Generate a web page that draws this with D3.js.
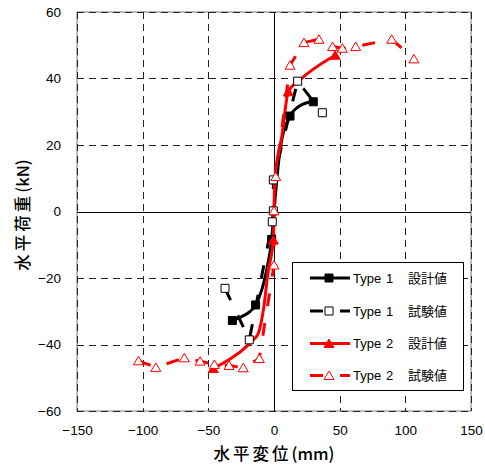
<!DOCTYPE html>
<html>
<head>
<meta charset="utf-8">
<script src="https://cdn.jsdelivr.net/npm/d3@7"></script>
<style>
  body { margin: 0; background: #fff; }
  svg { display: block; }
</style>
</head>
<body>
<svg id="chart"></svg>
<script>
// Type 1 design curve (filled squares, solid)
var t1DesignX = [-31.7, -24.6, -18.3, -14, -5.6, -1.8, 0, 4.6, 12.2, 18.5, 24.9, 29.9];
var t1DesignY = [-32.8, -31.6, -30.1, -28.1, -17.6, -8.4, 0, 18.5, 28.7, 31.5, 32.7, 33];
var t1DesignMark = [1, 0, 0, 1, 0, 1, 0, 0, 1, 0, 0, 1];

// Type 1 test (hollow squares, dashed)
var t1TestX = [-37.3, -18.8, -1.3, -0.5, -0.5, 18, 36.8];
var t1TestY = [-23.1, -38.6, -3.1, 0.2, 9.5, 39.2, 29.7];

// Type 2 design curve (filled triangles, solid)
var t2DesignX = [-46.2, -19.5, -15.7, -11.9, -8.1, -4.3, -0.5, 0, 0.5, 5.9, 10.9, 19.8, 46.6];
var t2DesignY = [-47.2, -40.1, -38.6, -36.6, -29.6, -17.6, -8.6, 0, 9.5, 22.5, 36, 39.6, 47];
var t2DesignMark = [1, 0, 0, 0, 0, 0, 1, 0, 0, 0, 1, 0, 1];

// Type 2 test (hollow triangles, dashed)
var t2TestX = [-103.2, -90, -68.3, -56.3, -45.4, -34.2, -23.4, -11.2, 0, 0, 1.3, 12.2, 22.8, 34.2, 44.6, 52, 62.2, 89.6, 106.5];
var t2TestY = [-44.9, -46.9, -44, -45, -46, -46.3, -47, -44.2, -16.1, 0.2, 10.5, 44, 50.8, 51.8, 49.6, 49.1, 49.6, 51.8, 45.9];

var xTicks = [-150, -100, -50, 0, 50, 100, 150];
var yTicks = [-60, -40, -20, 0, 20, 40, 60];

var legendLabels = [
  {type: "Type", num: "1", kind: "設計値"},
  {type: "Type", num: "1", kind: "試験値"},
  {type: "Type", num: "2", kind: "設計値"},
  {type: "Type", num: "2", kind: "試験値"}
];

var width = 485, height = 466;
var plot = {left: 77, right: 471, top: 12, bottom: 411};
var numFont = "'Liberation Sans', Arial, sans-serif";
var jpFont = "'Noto Sans CJK JP', sans-serif";

var svg = d3.select("#chart").attr("width", width).attr("height", height);

var xScale = d3.scaleLinear().domain([-150, 150]).range([plot.left, plot.right]);
var yScale = d3.scaleLinear().domain([-60, 60]).range([plot.bottom, plot.top]);

// frame
svg.append("rect")
  .attr("x", plot.left).attr("y", plot.top)
  .attr("width", plot.right - plot.left).attr("height", plot.bottom - plot.top)
  .attr("fill", "none").attr("stroke", "#777").attr("stroke-width", 1);

// dashed grid
svg.append("g").selectAll("line")
  .data(xTicks.filter(function(d) { return d != 0; }))
  .enter().append("line")
  .attr("x1", function(d) { return Math.round(xScale(d)) + 0.5; })
  .attr("x2", function(d) { return Math.round(xScale(d)) + 0.5; })
  .attr("y1", plot.top).attr("y2", plot.bottom)
  .attr("stroke", "#222").attr("stroke-dasharray", "7,5");

svg.append("g").selectAll("line")
  .data(yTicks.filter(function(d) { return d != 0; }))
  .enter().append("line")
  .attr("y1", function(d) { return Math.round(yScale(d)) + 0.5; })
  .attr("y2", function(d) { return Math.round(yScale(d)) + 0.5; })
  .attr("x1", plot.left).attr("x2", plot.right)
  .attr("stroke", "#222").attr("stroke-dasharray", "7,5");

// zero lines
svg.append("line")
  .attr("x1", Math.round(xScale(0)) + 0.5).attr("x2", Math.round(xScale(0)) + 0.5)
  .attr("y1", plot.top).attr("y2", plot.bottom)
  .attr("stroke", "#000");
svg.append("line")
  .attr("y1", Math.round(yScale(0)) + 0.5).attr("y2", Math.round(yScale(0)) + 0.5)
  .attr("x1", plot.left).attr("x2", plot.right)
  .attr("stroke", "#000");

// axes labels
var x_axis = d3.axisBottom(xScale).tickValues(xTicks).tickSize(0).tickPadding(14)
  .tickFormat(d3.format("d"));
var gx = svg.append("g")
  .attr("transform", "translate(0," + plot.bottom + ")")
  .call(x_axis);
gx.select(".domain").remove();
gx.selectAll("text").attr("font-family", numFont).attr("font-size", "13.5px").attr("fill", "#000")
  .text(function(d) { return String(d).replace("-", "\u2212"); });

var y_axis = d3.axisLeft(yScale).tickValues(yTicks).tickSize(0).tickPadding(16)
  .tickFormat(d3.format("d"));
var gy = svg.append("g")
  .attr("transform", "translate(" + plot.left + ",0)")
  .call(y_axis);
gy.select(".domain").remove();
gy.selectAll("text").attr("font-family", numFont).attr("font-size", "13.5px").attr("fill", "#000")
  .text(function(d) { return String(d).replace("-", "\u2212"); });

// axis titles
var xTitle = svg.append("text")
  .attr("x", 274).attr("y", 460)
  .attr("text-anchor", "middle")
  .attr("font-family", jpFont).attr("font-size", "16.5px").attr("font-weight", 500);
xTitle.append("tspan").attr("letter-spacing", "3px").text("水平変位");
xTitle.append("tspan").text("(mm)");

var yTitle = svg.append("text")
  .attr("transform", "translate(29,215) rotate(-90)")
  .attr("text-anchor", "middle")
  .attr("font-family", jpFont).attr("font-size", "16.5px").attr("font-weight", 500);
yTitle.append("tspan").attr("letter-spacing", "3px").text("水平荷重");
yTitle.append("tspan").text("(kN)");

function pts(xs, ys) {
  return xs.map(function(x, i) { return [x, ys[i]]; });
}

var series = [
  {data: pts(t1DesignX, t1DesignY), mark: t1DesignMark, color: "#000", dash: null, shape: "square", filled: true},
  {data: pts(t1TestX, t1TestY), mark: null, color: "#000", dash: "13,17", shape: "square", filled: false},
  {data: pts(t2DesignX, t2DesignY), mark: t2DesignMark, color: "#ff0000", dash: null, shape: "triangle", filled: true},
  {data: pts(t2TestX, t2TestY), mark: null, color: "#ff0000", dash: "13,17", shape: "triangle", filled: false}
];

var smoothLine = d3.line()
  .x(function(d) { return xScale(d[0]); })
  .y(function(d) { return yScale(d[1]); })
  .curve(d3.curveMonotoneX);
var straightLine = d3.line()
  .x(function(d) { return xScale(d[0]); })
  .y(function(d) { return yScale(d[1]); });

svg.append("clipPath").attr("id", "plotclip").append("rect")
  .attr("x", plot.left).attr("y", plot.top)
  .attr("width", plot.right - plot.left).attr("height", plot.bottom - plot.top);

// all lines first, then markers on top
var linesG = svg.append("g").attr("clip-path", "url(#plotclip)");
series.forEach(function(s) {
  linesG.append("path")
    .attr("d", s.dash ? straightLine(s.data) : smoothLine(s.data))
    .attr("fill", "none")
    .attr("stroke", s.color)
    .attr("stroke-width", 3)
    .attr("stroke-dasharray", s.dash);
});

function markerPath(shape) {
  if (shape == "square") return "M-4,-4H4V4H-4Z";
  return "M0,-4.5L5,4L-5,4Z";
}

function drawMarker(g, s, x, y) {
  g.append("path")
    .attr("transform", "translate(" + x + "," + y + ")")
    .attr("d", markerPath(s.shape))
    .attr("fill", s.filled ? s.color : "#fff")
    .attr("stroke", s.color)
    .attr("stroke-width", 1);
}

var markG = svg.append("g");
series.forEach(function(s) {
  s.data.forEach(function(d, i) {
    if (s.mark && !s.mark[i]) return;
    drawMarker(markG, s, xScale(d[0]), yScale(d[1]));
  });
});

// legend
var legend = svg.append("g");
legend.append("rect")
  .attr("x", 292.5).attr("y", 262.5).attr("width", 171).attr("height", 128)
  .attr("fill", "#fff").attr("stroke", "#000").attr("stroke-width", 1);

var rowY = [278, 311, 343.5, 375.5];
series.forEach(function(s, i) {
  var ly = rowY[i];
  legend.append("line")
    .attr("x1", 310).attr("x2", 350).attr("y1", ly).attr("y2", ly)
    .attr("stroke", s.color).attr("stroke-width", 3)
    .attr("stroke-dasharray", s.dash);
  drawMarker(legend, s, 329, ly);
  legend.append("text")
    .attr("x", 353).attr("y", ly).attr("dy", "0.36em")
    .attr("font-family", numFont).attr("font-size", "13px")
    .text(legendLabels[i].type);
  legend.append("text")
    .attr("x", 386).attr("y", ly).attr("dy", "0.36em")
    .attr("font-family", numFont).attr("font-size", "13px")
    .text(legendLabels[i].num);
  legend.append("text")
    .attr("x", 408).attr("y", ly).attr("dy", "0.36em")
    .attr("font-family", jpFont).attr("font-size", "13px")
    .text(legendLabels[i].kind);
});
</script>
</body>
</html>
